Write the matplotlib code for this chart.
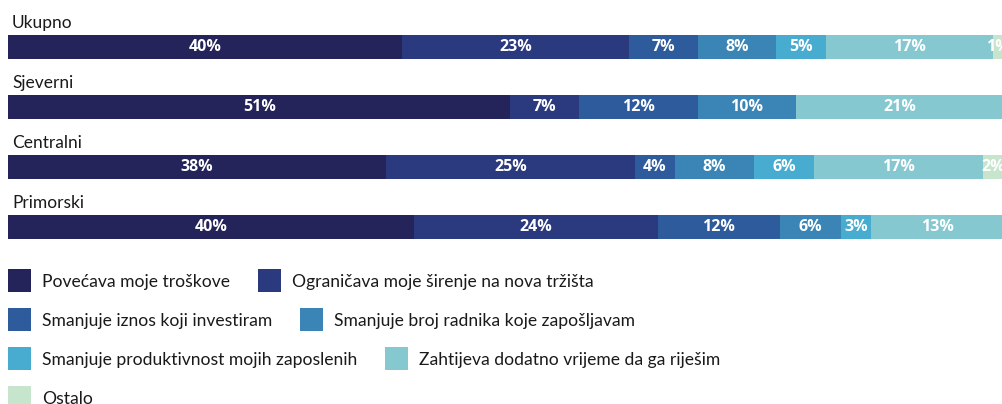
import numpy as np
import matplotlib.pyplot as plt
from matplotlib.patches import Rectangle

# regije i odgovori (postoci)
regije = ["Ukupno", "Sjeverni", "Centralni", "Primorski"]
kategorije = [
    "Povećava moje troškove",
    "Ograničava moje širenje na nova tržišta",
    "Smanjuje iznos koji investiram",
    "Smanjuje broj radnika koje zapošljavam",
    "Smanjuje produktivnost mojih zaposlenih",
    "Zahtijeva dodatno vrijeme da ga riješim",
    "Ostalo",
]
ukupno = [40, 23, 7, 8, 5, 17, 1]
sjeverni = [51, 7, 12, 10, 0, 21, 0]
centralni = [38, 25, 4, 8, 6, 17, 2]
primorski = [40, 24, 12, 6, 3, 13, 0]
boje = ["#24235a", "#2b3a7e", "#2d5b9c", "#3a85b5", "#48acd0", "#85c8d0", "#c7e5cc"]

podaci = np.array([ukupno, sjeverni, centralni, primorski], dtype=float)

W, H = 1003, 404
fig = plt.figure(figsize=(W / 100, H / 100), dpi=100)

# os za trake, y=0 je prva traka, razmak 60 px
ax = fig.add_axes([8 / W, (H - 256) / H, 995 / W, 256 / H])
ax.set_xlim(0, 100)
ax.set_ylim(3.483, -0.783)
ax.axis("off")

for i, red in enumerate(podaci):
    udio = red / red.sum() * 100
    lijevo = 0
    for j, v in enumerate(red):
        if v > 0:
            ax.barh(i, udio[j], left=lijevo, height=0.4, color=boje[j], linewidth=0)
            ax.text(lijevo + udio[j] / 2, i, f"{v:.0f}%", ha="center", va="center",
                    color="white", fontsize=11.5, fontweight="bold", family="Open Sans",
                    clip_on=False)
        lijevo += udio[j]
    ax.text(0.4, i - 0.317, regije[i], ha="left", va="baseline", fontsize=12.5,
            family="Lato", color="#1a1a1a")

# legenda: dvije stavke po retku
r = fig.canvas.get_renderer()
kv = 23
for k, naziv in enumerate(kategorije):
    red_l, stup = divmod(k, 2)
    vrh = 269 + red_l * 39
    if stup == 0:
        x = 8
    fig.patches.append(Rectangle((x / W, (H - vrh - kv) / H), kv / W, kv / H,
                                 transform=fig.transFigure, color=boje[k], linewidth=0))
    t = fig.text((x + 34) / W, (H - vrh - 18) / H, naziv, ha="left", va="baseline",
                 fontsize=12.6, family="Lato", color="#1a1a1a")
    sirina = t.get_window_extent(renderer=r).width
    x = x + 34 + sirina + 28

fig.savefig("out.png", dpi=100)
